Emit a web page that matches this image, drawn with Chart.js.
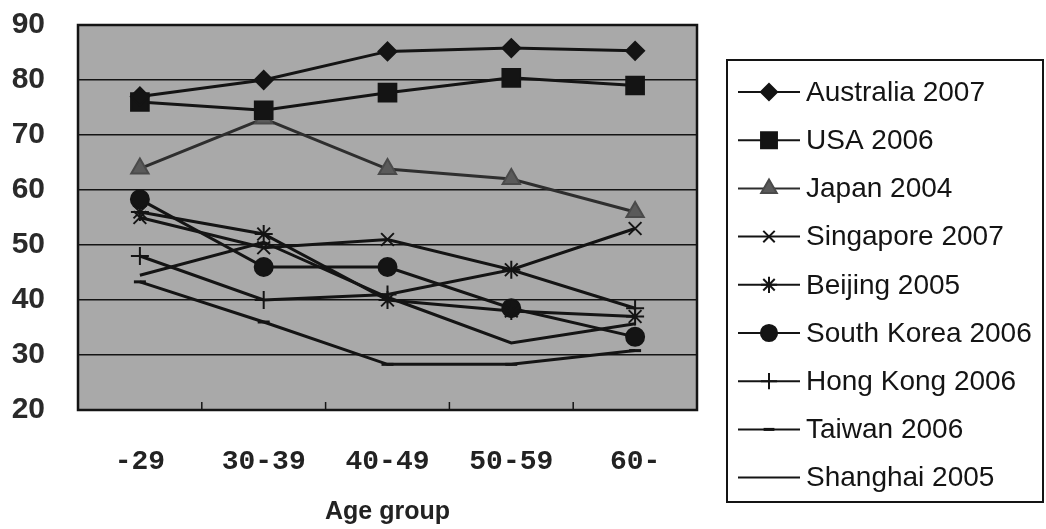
<!DOCTYPE html>
<html>
<head>
<meta charset="utf-8">
<script src="https://cdn.jsdelivr.net/npm/chart.js@4.4.0/dist/chart.umd.min.js"></script>
<style>
  html, body { margin: 0; padding: 0; background: #ffffff; }
  #wrap { width: 1046px; height: 529px; }
</style>
</head>
<body>
<div id="wrap"><canvas id="c" width="1046" height="529"></canvas></div>
<script>
// ---- data ----
const categories = ['-29', '30-39', '40-49', '50-59', '60-'];
const australia2007  = [77, 80, 85.2, 85.8, 85.3];
const usa2006        = [76, 74.5, 77.7, 80.4, 79];
const japan2004      = [63.9, 73, 63.8, 62, 56];
const singapore2007  = [55, 49.5, 51, 45.5, 53];
const beijing2005    = [56, 52, 40, 38, 37];
const southKorea2006 = [58.3, 46, 46, 38.5, 33.3];
const hongKong2006   = [48, 40, 41, 45.5, 38.5];
const taiwan2006     = [43.3, 36, 28.3, 28.3, 30.8];
const shanghai2005   = [44.5, 50.5, 40.5, 32.2, 35.7];
const seriesLabels = ['Australia 2007', 'USA 2006', 'Japan 2004', 'Singapore 2007', 'Beijing 2005',
                      'South Korea 2006', 'Hong Kong 2006', 'Taiwan 2006', 'Shanghai 2005'];
const yTicks = [20, 30, 40, 50, 60, 70, 80, 90];
const xTitle = 'Age group';

const INK = '#141414';
function ds(label, data, style, radius, opts) {
  return Object.assign({
    label: label,
    data: data,
    borderColor: INK,
    backgroundColor: INK,
    pointBackgroundColor: INK,
    pointBorderColor: INK,
    borderWidth: 3,
    pointStyle: style,
    pointRadius: radius,
    pointBorderWidth: 2,
    tension: 0,
    fill: false
  }, opts || {});
}

const datasets = [
  ds(seriesLabels[0], australia2007, 'rectRot', 9),
  ds(seriesLabels[1], usa2006, 'rect', 12.5),
  ds(seriesLabels[2], japan2004, 'triangle', 10, {borderColor: '#2e2e2e', pointBackgroundColor: '#5a5a5a', pointBorderColor: '#4a4a4a'}),
  ds(seriesLabels[3], singapore2007, 'crossRot', 9),
  ds(seriesLabels[4], beijing2005, 'star', 9),
  ds(seriesLabels[5], southKorea2006, 'circle', 9),
  ds(seriesLabels[6], hongKong2006, 'cross', 9),
  ds(seriesLabels[7], taiwan2006, 'line', 6, {pointBorderWidth: 3}),
  ds(seriesLabels[8], shanghai2005, 'circle', 0)
];

const PLOT_BG = '#a9a9a9';

const plotDeco = {
  id: 'plotDeco',
  beforeDraw(chart) {
    const a = chart.chartArea, ctx = chart.ctx;
    ctx.save();
    ctx.fillStyle = PLOT_BG;
    ctx.fillRect(a.left, a.top, a.right - a.left, a.bottom - a.top);
    ctx.restore();
  },
  beforeDatasetsDraw(chart) {
    const a = chart.chartArea, ctx = chart.ctx;
    const xs = chart.scales.x;
    ctx.save();
    ctx.strokeStyle = INK;
    ctx.lineWidth = 1.5;
    for (let i = 1; i < categories.length; i++) {
      const px = (xs.getPixelForValue(i - 1) + xs.getPixelForValue(i)) / 2;
      ctx.beginPath();
      ctx.moveTo(px, a.bottom);
      ctx.lineTo(px, a.bottom - 8);
      ctx.stroke();
    }
    ctx.lineWidth = 2.5;
    ctx.strokeRect(a.left, a.top, a.right - a.left, a.bottom - a.top);
    ctx.restore();
  }
};

const boxLegend = {
  id: 'boxLegend',
  afterDraw(chart) {
    const ctx = chart.ctx;
    const L = 727, T = 60, R = 1043, B = 502;
    ctx.save();
    ctx.strokeStyle = INK;
    ctx.lineWidth = 2;
    ctx.strokeRect(L, T, R - L, B - T);
    ctx.font = '28px "Liberation Sans", Arial, sans-serif';
    ctx.textBaseline = 'middle';
    ctx.textAlign = 'left';
    chart.data.datasets.forEach((d, i) => {
      const y = 92 + i * 48.2;
      ctx.strokeStyle = d.borderColor;
      ctx.lineWidth = 2;
      ctx.beginPath();
      ctx.moveTo(738, y);
      ctx.lineTo(800, y);
      ctx.stroke();
      if (d.pointRadius > 0) {
        ctx.fillStyle = d.pointBackgroundColor;
        ctx.strokeStyle = d.pointBorderColor;
        ctx.lineWidth = d.pointBorderWidth;
        Chart.helpers.drawPoint(ctx, {pointStyle: d.pointStyle, radius: d.pointRadius * 0.9, rotation: 0, borderWidth: d.pointBorderWidth}, 769, y);
      }
      ctx.fillStyle = INK;
      ctx.fillText(d.label, 806, y + 1);
    });
    ctx.restore();
  }
};

new Chart(document.getElementById('c'), {
  type: 'line',
  data: { labels: categories, datasets: datasets },
  options: {
    responsive: false,
    animation: false,
    layout: { padding: { left: 0, right: 349, top: 25, bottom: 0 } },
    plugins: { legend: { display: false }, tooltip: { enabled: false } },
    scales: {
      x: {
        type: 'category',
        offset: true,
        grid: { display: false },
        border: { display: false },
        ticks: {
          autoSkip: false, maxRotation: 0, padding: 27, color: '#222',
          font: { family: '"Liberation Mono", "DejaVu Sans Mono", monospace', size: 28, weight: 'bold' }
        },
        title: {
          display: true, text: xTitle, color: '#222',
          font: { family: '"Liberation Sans", Arial, sans-serif', size: 25, weight: 'bold' },
          padding: { top: 0, bottom: 2 }
        },
        afterFit(s) { s.height = 119; s.paddingLeft = 0; s.paddingRight = 0; }
      },
      y: {
        min: 20, max: 90,
        afterBuildTicks(s) { s.ticks = yTicks.map(v => ({ value: v })); },
        grid: { color: INK, lineWidth: 1.5, drawTicks: false },
        border: { display: false },
        ticks: {
          padding: 33, color: '#2a2a2a',
          font: { family: '"Liberation Sans", Arial, sans-serif', size: 30, weight: 'bold' }
        },
        afterFit(s) { s.width = 78; s.paddingTop = 0; s.paddingBottom = 0; }
      }
    }
  },
  plugins: [plotDeco, boxLegend]
});
</script>
</body>
</html>
